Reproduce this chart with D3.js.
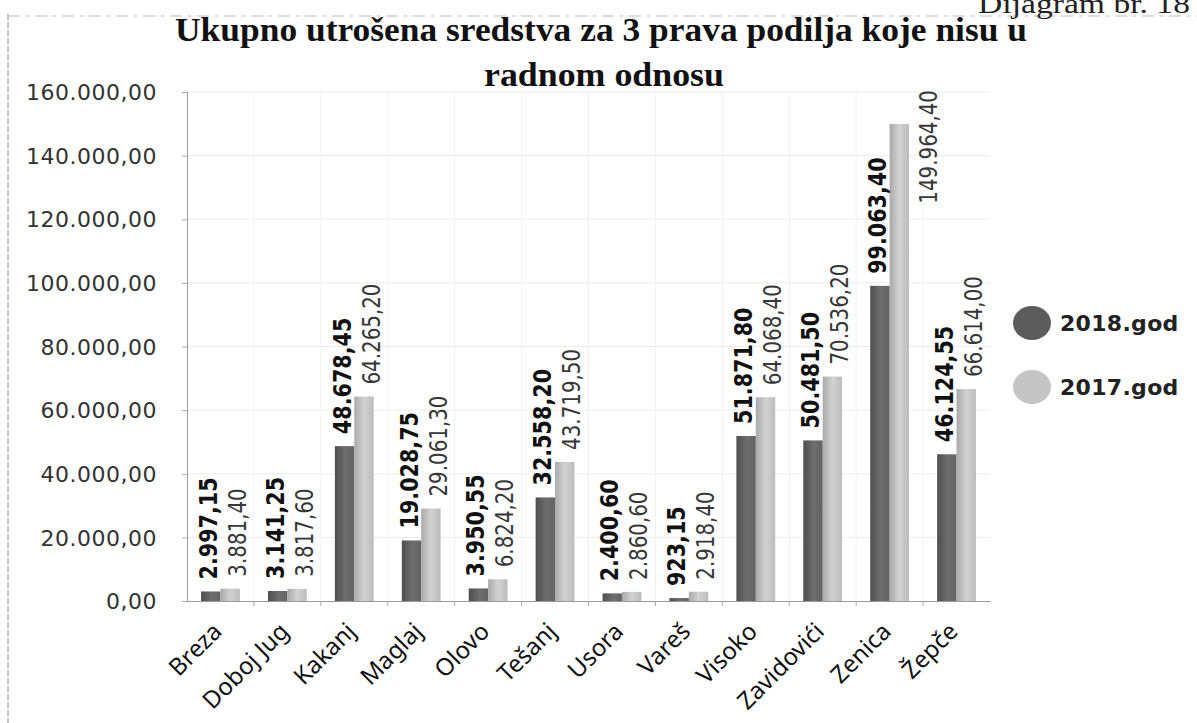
<!doctype html>
<html>
 <head>
  <meta charset="utf-8">
  <script src="https://d3js.org/d3.v7.min.js"></script>
  <style>
   body { margin: 0; background: #fff; }
   svg { display: block; }
   .tick-label { font: 22px "DejaVu Sans", Verdana, sans-serif; fill: #333; letter-spacing: 0.5px; }
   .cat-label { font: 24px "Noto Sans", "Open Sans", sans-serif; fill: #111; }
   .val18 { font: bold 25px "DejaVu Sans Condensed", "DejaVu Sans", sans-serif; fill: #111; }
   .val17 { font: 24px "DejaVu Sans Condensed", "DejaVu Sans", sans-serif; fill: #383838; }
   .legend { font: bold 22px "DejaVu Sans", Verdana, sans-serif; fill: #222; letter-spacing: 0.3px; }
  </style>
 </head>
<body>
<svg id="chart" width="1197" height="723"></svg>
<script>

// data
var categories = ["Breza", "Doboj Jug", "Kakanj", "Maglaj", "Olovo", "Tešanj",
                  "Usora", "Vareš", "Visoko", "Zavidovići", "Zenica", "Žepče"];
var values2018 = [2997.15, 3141.25, 48678.45, 19028.75, 3950.55, 32558.20,
                  2400.60, 923.15, 51871.80, 50481.50, 99063.40, 46124.55];
var values2017 = [3881.40, 3817.60, 64265.20, 29061.30, 6824.20, 43719.50,
                  2860.60, 2918.40, 64068.40, 70536.20, 149964.40, 66614.00];
var seriesNames = ["2018.god", "2017.god"];
var yTicks = [0, 20000, 40000, 60000, 80000, 100000, 120000, 140000, 160000];

var locale = d3.formatLocale({decimal: ",", thousands: ".", grouping: [3], currency: ["", ""]});
var fmt = locale.format(",.2f");

var svg = d3.select("#chart");

var plotLeft = 187, plotRight = 990, plotTop = 92, plotBottom = 601;

var x0 = d3.scaleBand()
    .domain(categories)
    .range([plotLeft, plotRight])
    .paddingInner(0.42)
    .paddingOuter(0.21);

var x1 = d3.scaleBand()
    .domain(seriesNames)
    .range([0, x0.bandwidth()]);

var y = d3.scaleLinear()
    .domain([0, 160000])
    .range([plotBottom, plotTop]);

// gradients for the bars
var defs = svg.append("defs");
function grad(id, stops) {
  var g = defs.append("linearGradient").attr("id", id)
      .attr("x1", "0%").attr("x2", "100%").attr("y1", "0%").attr("y2", "0%");
  stops.forEach(function(s) {
    g.append("stop").attr("offset", s[0]).attr("stop-color", s[1]);
  });
}
grad("g18", [["0%", "#4e4e4e"], ["55%", "#6e6e6e"], ["100%", "#626262"]]);
grad("g17", [["0%", "#a9a9a9"], ["50%", "#d2d2d2"], ["100%", "#bcbcbc"]]);

// page frame bits from the scan
svg.append("line").attr("x1", 8).attr("x2", 8).attr("y1", 14).attr("y2", 723)
    .attr("stroke", "#888").attr("stroke-width", 1).attr("stroke-dasharray", "6,2");
svg.append("line").attr("x1", 8).attr("x2", 1197).attr("y1", 16).attr("y2", 16)
    .attr("stroke", "#bbb").attr("stroke-width", 1).attr("stroke-dasharray", "12,6,3,6");

svg.append("text")
    .attr("x", 1190).attr("y", 13)
    .attr("text-anchor", "end")
    .attr("textLength", 212).attr("lengthAdjust", "spacingAndGlyphs")
    .style("font", "27px 'Liberation Serif', 'Times New Roman', serif")
    .style("fill", "#222")
    .text("Dijagram br. 18");

// title
svg.append("text")
    .attr("x", 601).attr("y", 41)
    .attr("text-anchor", "middle")
    .attr("textLength", 852).attr("lengthAdjust", "spacingAndGlyphs")
    .style("font", "bold 33px 'Liberation Serif', 'Times New Roman', serif")
    .style("fill", "#111")
    .text("Ukupno utrošena sredstva za 3 prava podilja  koje nisu u");
svg.append("text")
    .attr("x", 604).attr("y", 86)
    .attr("text-anchor", "middle")
    .attr("textLength", 240).attr("lengthAdjust", "spacingAndGlyphs")
    .style("font", "bold 33px 'Liberation Serif', 'Times New Roman', serif")
    .style("fill", "#111")
    .text("radnom odnosu");

// faint grid
svg.append("g").selectAll("line")
    .data(yTicks.slice(1))
    .enter().append("line")
    .attr("x1", plotLeft).attr("x2", plotRight)
    .attr("y1", function(d) { return y(d); }).attr("y2", function(d) { return y(d); })
    .attr("stroke", "#ececec");
svg.append("g").selectAll("line")
    .data(categories.slice(1))
    .enter().append("line")
    .attr("x1", function(d) { return x0(d) - x0.step() * x0.paddingInner() / 2; })
    .attr("x2", function(d) { return x0(d) - x0.step() * x0.paddingInner() / 2; })
    .attr("y1", plotTop).attr("y2", plotBottom)
    .attr("stroke", "#f0f0f0");

// y axis
var yAxis = d3.axisLeft(y).tickValues(yTicks).tickSize(5).tickFormat(fmt);
var gy = svg.append("g").attr("transform", "translate(" + plotLeft + ",0)").call(yAxis);
gy.select(".domain").attr("stroke", "#999");
gy.selectAll(".tick line").attr("stroke", "#aaa");
gy.selectAll(".tick text")
    .attr("class", "tick-label")
    .attr("x", -30)
    .attr("dy", "0.35em");

// x axis
var xAxis = d3.axisBottom(x0).tickSize(0).tickFormat("");
var gx = svg.append("g").attr("transform", "translate(0," + plotBottom + ")").call(xAxis);
gx.select(".domain").attr("stroke", "#999");
gx.selectAll(".bound")
    .data(categories.slice(1))
    .enter().append("line")
    .attr("x1", function(d) { return x0(d) - x0.step() * x0.paddingInner() / 2; })
    .attr("x2", function(d) { return x0(d) - x0.step() * x0.paddingInner() / 2; })
    .attr("y1", 0).attr("y2", 5)
    .attr("stroke", "#aaa");

// category labels rotated
svg.append("g").selectAll("text")
    .data(categories)
    .enter().append("text")
    .attr("class", "cat-label")
    .attr("text-anchor", "end")
    .attr("transform", function(d) {
      return "translate(" + (x0(d) + x0.bandwidth() / 2 - 9) + "," + (plotBottom + 20) + ") rotate(-45)";
    })
    .attr("dy", "0.7em")
    .text(function(d) { return d; });

// bars
var rows = categories.map(function(c, i) {
  return {cat: c, vals: [values2018[i], values2017[i]]};
});

var group = svg.append("g").selectAll("g")
    .data(rows)
    .enter().append("g")
    .attr("transform", function(d) { return "translate(" + x0(d.cat) + ",0)"; });

group.selectAll("rect")
    .data(function(d) { return d.vals.map(function(v, j) { return {s: seriesNames[j], v: v, j: j}; }); })
    .enter().append("rect")
    .attr("x", function(d) { return x1(d.s); })
    .attr("width", x1.bandwidth())
    .attr("y", function(d) { return y(d.v); })
    .attr("height", function(d) { return y(0) - y(d.v); })
    .attr("fill", function(d) { return d.j === 0 ? "url(#g18)" : "url(#g17)"; });

// value labels; a label that would run into the title goes beside its bar
var labelLen = 115;
group.selectAll("text")
    .data(function(d) { return d.vals.map(function(v, j) { return {s: seriesNames[j], v: v, j: j}; }); })
    .enter().append("text")
    .attr("class", function(d) { return d.j === 0 ? "val18" : "val17"; })
    .attr("text-anchor", function(d) { return y(d.v) - 12 - labelLen < plotTop ? "end" : "start"; })
    .attr("transform", function(d) {
      var cx = x1(d.s) + x1.bandwidth() / 2 + (d.j === 0 ? -3 : 7);
      var ty = y(d.v) - 12;
      if (ty - labelLen < plotTop) {
        cx = x1(d.s) + x1.bandwidth() + 19;
        ty = plotTop - 2;
      }
      return "translate(" + cx + "," + ty + ") rotate(-90) scale(0.92,1)";
    })
    .attr("dy", "0.36em")
    .text(function(d) { return fmt(d.v); });

// legend
var legend = svg.append("g").selectAll("g")
    .data(seriesNames)
    .enter().append("g")
    .attr("transform", function(d, i) { return "translate(1032," + (323 + i * 64) + ")"; });
legend.append("ellipse")
    .attr("rx", 19).attr("ry", 17)
    .attr("fill", function(d, i) { return i === 0 ? "#5c5c5c" : "#c4c4c4"; });
legend.append("text")
    .attr("class", "legend")
    .attr("x", 28)
    .attr("dy", "0.36em")
    .text(function(d) { return d; });

</script>
</body>
</html>
